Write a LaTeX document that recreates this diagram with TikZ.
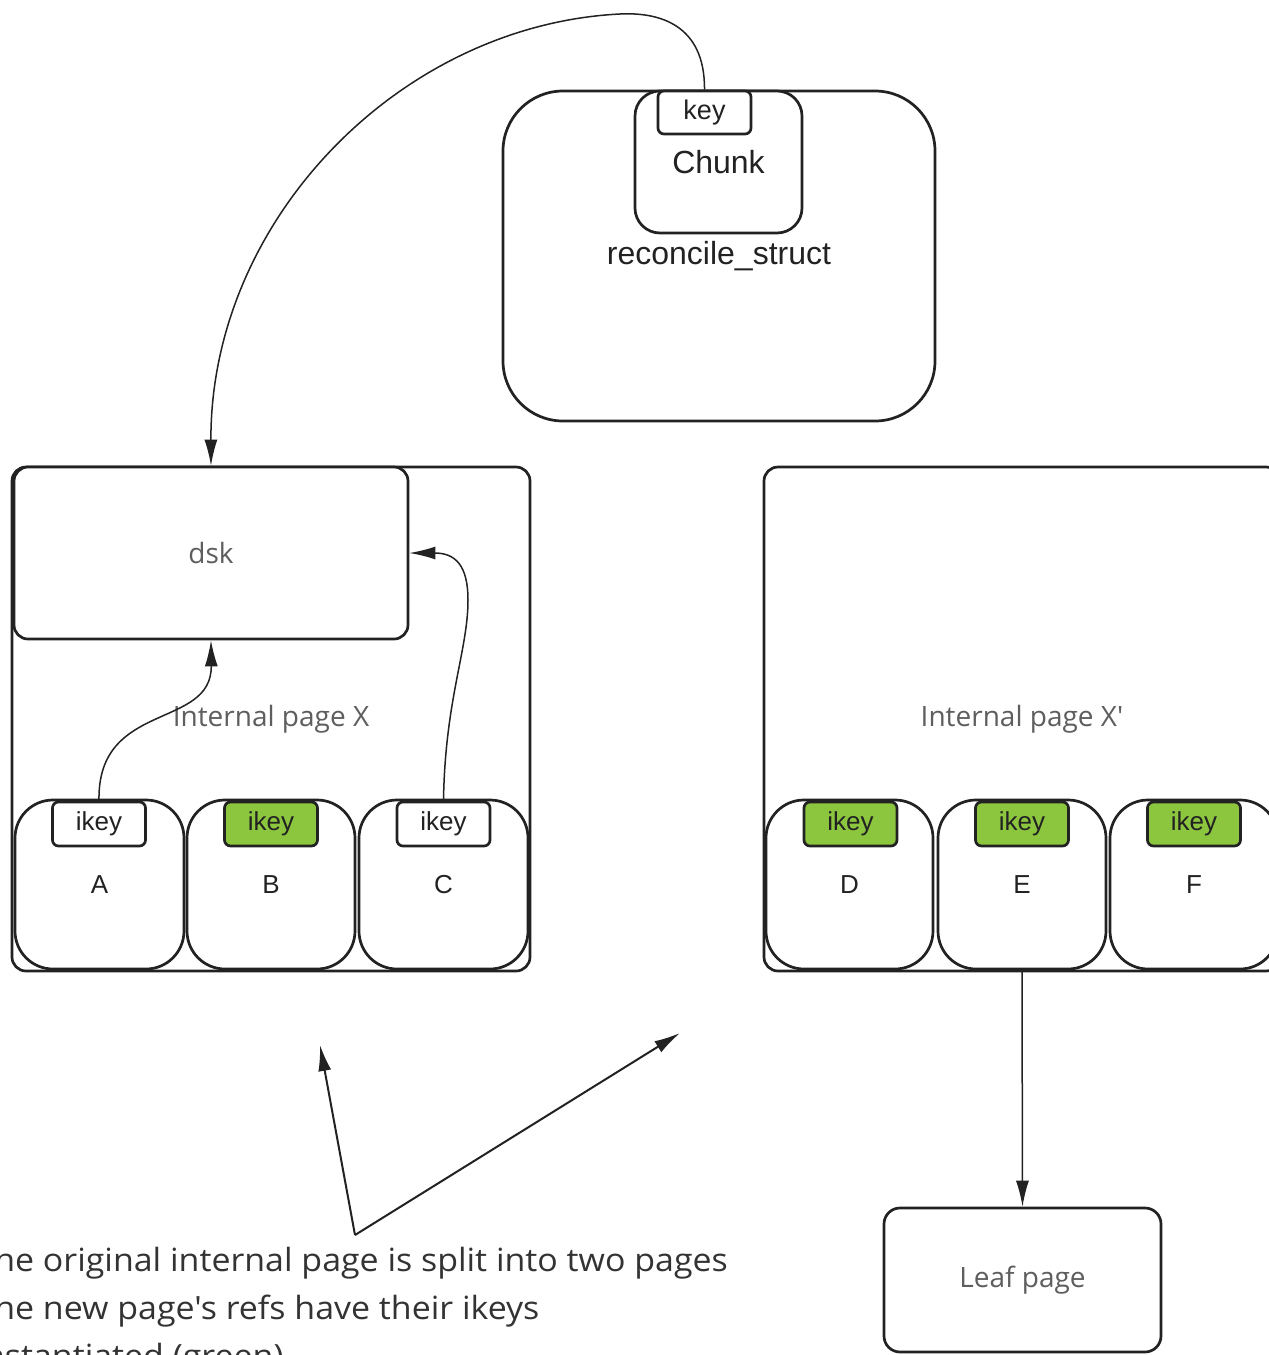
\documentclass[tikz,border=0pt]{standalone}
\usepackage{fontspec}
\setmainfont{Open Sans}[Ligatures=TeXOff]
\newfontfamily\notefont{Open Sans}[Ligatures=TeXOff,FakeStretch=1.06]
\newfontfamily\arialf{Liberation Sans}[Ligatures=TeXOff]
\usetikzlibrary{arrows.meta}
\definecolor{grn}{HTML}{8CC63F}
\definecolor{lbl}{HTML}{5E5E5E}
\definecolor{edge}{HTML}{222222}
\definecolor{note}{HTML}{333333}
\begin{document}
\begin{tikzpicture}[x=1pt,y=-1pt,
  box/.style={draw=edge,line width=2.7pt,fill=white,inner sep=0pt},
  bigbox/.style={box,rounded corners=60pt},
  pagebox/.style={box,rounded corners=14pt,font=\fontsize{28}{32}\selectfont,text=lbl},
  refbox/.style={box,rounded corners=38pt,minimum height=169pt,font=\arialf\fontsize{26}{30}\selectfont,text=edge},
  keybox/.style={box,rounded corners=6pt,minimum width=93pt,minimum height=44pt,font=\arialf\fontsize{26}{30}\selectfont,text=edge},
  newkey/.style={keybox,fill=grn},
  conn/.style={draw=edge,line width=1.5pt,-{Latex[length=26pt,width=13pt]}},
  pointer/.style={draw=edge,line width=2pt,-{Latex[length=26pt,width=13pt]}}
]
\useasboundingbox[fill=white] (0,0) rectangle (1269,1355);

% reconcile structure
\node[bigbox,minimum width=432pt,minimum height=330pt,font=\arialf\fontsize{32}{38}\selectfont,text=edge] (rec) at (719,256) {reconcile\_struct};
\node[box,rounded corners=25pt,minimum width=167pt,minimum height=142pt,font=\arialf\fontsize{32}{38}\selectfont,text=edge] (chunk) at (718.5,162) {Chunk};
\node[keybox,minimum width=93pt,minimum height=43pt,font=\arialf\fontsize{27}{32}\selectfont] (key) at (704.5,112.5) {key};

% internal page X
\node[pagebox,minimum width=518pt,minimum height=504pt] (pgX) at (271,719) {Internal page X};
\node[pagebox,minimum width=394pt,minimum height=172pt] (dsk) at (211,553) {dsk};
\node[refbox,minimum width=169pt] (A) at (99.5,884.5) {A};
\node[refbox,minimum width=168pt] (B) at (271,884.5) {B};
\node[refbox,minimum width=169pt] (C) at (443.5,884.5) {C};
\node[keybox] (kA) at (99,824) {ikey};
\node[newkey] (kB) at (271,824) {ikey};
\node[keybox] (kC) at (443.5,824) {ikey};

% internal page X'
\node[pagebox,minimum width=516pt,minimum height=504pt] (pgY) at (1022,719) {Internal page X{\char"27}};
\node[refbox,minimum width=167pt] (D) at (849.5,884.5) {D};
\node[refbox,minimum width=168pt] (E) at (1022,884.5) {E};
\node[refbox,minimum width=168pt] (F) at (1194,884.5) {F};
\node[newkey] (kD) at (850.5,824) {ikey};
\node[newkey] (kE) at (1022,824) {ikey};
\node[newkey] (kF) at (1194,824) {ikey};

% leaf page
\node[pagebox,rounded corners=16pt,minimum width=277pt,minimum height=144pt] (leaf) at (1022.5,1280) {Leaf page};

% connectors
\draw[conn] (key.north) .. controls (705,25) and (660,12) .. (620,14)
  .. controls (400,25) and (210,220) .. (dsk.north);
\draw[conn] (kA.north) .. controls (97,700) and (212,730) .. (dsk.south);
\draw[conn] (kC.north) .. controls (445,700) and (468,650) .. (468,600)
  .. controls (468,565) and (455,553) .. (dsk.east);
\draw[conn] (E.south) -- (leaf.north);

% note
\coordinate (split) at (355,1235);
\coordinate (toX) at (320,1045);
\coordinate (toY) at (680,1033);
\draw[pointer] (split) -- (toX);
\draw[pointer] (split) -- (toY);
\node[anchor=north east,align=left,inner sep=0pt,text=note,font=\notefont\fontsize{32}{48}\selectfont] (txt) at (728,1247)
  {The original internal page is split into two pages\\The new page{\char"27}s refs have their ikeys\\instantiated (green)};
\end{tikzpicture}
\end{document}
